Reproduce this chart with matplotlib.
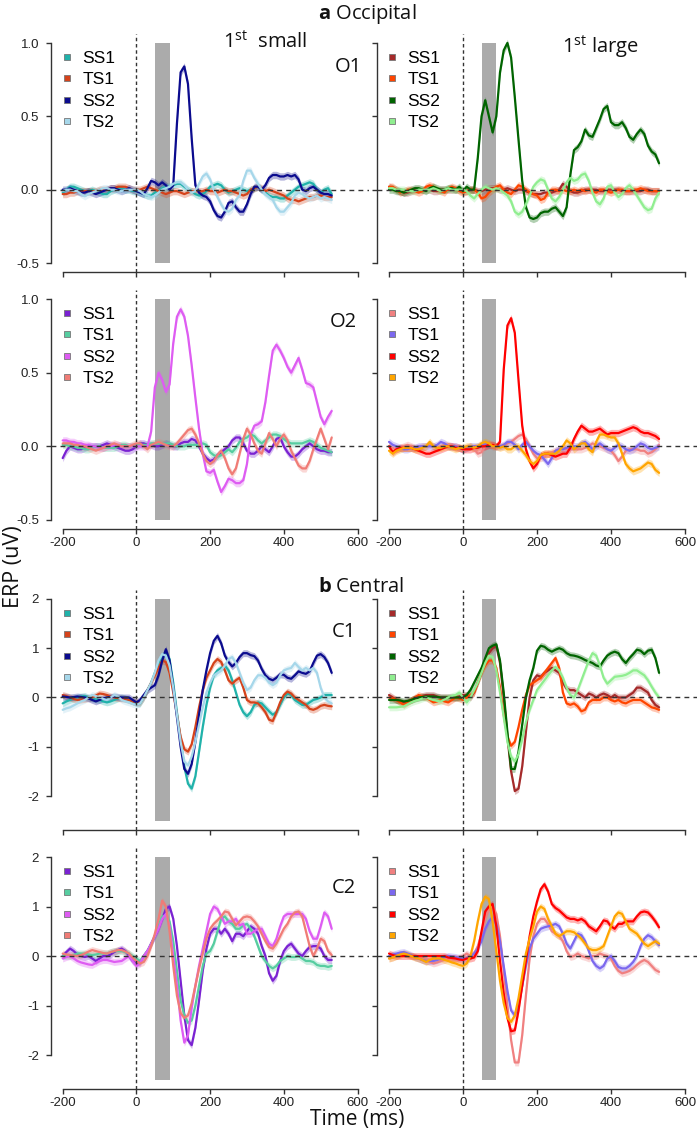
import matplotlib
matplotlib.use("Agg")
import matplotlib.pyplot as plt
from matplotlib.lines import Line2D
import numpy as np

plt.rcParams['font.family'] = ['Liberation Sans', 'DejaVu Sans']
plt.rcParams['axes.unicode_minus'] = False
plt.rcParams['mathtext.fontset'] = 'custom'
plt.rcParams['mathtext.rm'] = 'Open Sans'
plt.rcParams['mathtext.bf'] = 'Open Sans:bold'
plt.rcParams['mathtext.it'] = 'Open Sans:italic'

# ---------------- data ----------------
time_ms = list(range(-200, 531, 10))
conditions = ['SS1', 'TS1', 'SS2', 'TS2']
x_ticks = [-200, 0, 200, 400, 600]
o_ticks = [-0.5, 0.0, 0.5, 1.0]
c_ticks = [-2, -1, 0, 1, 2]
stim_window = (50, 90)

# O1, 1st small
o1s_ss1 = [-0.02, 0.00, 0.02, 0.02, 0.01, 0.00, -0.01, -0.01, 0.00, -0.01,
           -0.02, -0.03, -0.03, -0.01, 0.00, 0.01, 0.01, 0.00, 0.00, -0.01,
           -0.01, -0.02, -0.03, -0.04, -0.04, -0.02, -0.01, 0.01, 0.02, 0.02,
           0.03, 0.04, 0.04, 0.02, 0.00, -0.01, -0.03, -0.04, -0.03, -0.01,
           0.02, 0.03, 0.04, 0.03, 0.00, -0.02, -0.01, 0.00, 0.01, 0.00,
           -0.01, 0.00, 0.01, 0.02, 0.00, -0.02, -0.04, -0.05, -0.05, -0.06,
           -0.06, -0.04, -0.02, 0.00, 0.02, 0.03, 0.04, 0.05, 0.04, 0.00,
           -0.02, 0.00, 0.01, -0.03]
o1s_ts1 = [-0.03, -0.03, -0.02, -0.02, -0.01, -0.01, -0.01, -0.01, -0.01, -0.01,
           0.00, 0.00, 0.00, 0.01, 0.01, 0.02, 0.02, 0.02, 0.01, 0.00,
           0.00, 0.00, 0.01, 0.02, 0.01, 0.00, -0.01, -0.02, -0.03, -0.02,
           -0.01, -0.01, -0.02, -0.03, -0.02, -0.01, -0.01, -0.01, -0.01, 0.00,
           -0.01, -0.01, -0.02, -0.01, 0.00, -0.01, -0.01, -0.02, -0.03, -0.04,
           -0.03, 0.00, 0.01, 0.02, 0.01, -0.01, 0.00, -0.01, -0.02, -0.03,
           -0.04, -0.06, -0.07, -0.07, -0.08, -0.07, -0.06, -0.05, -0.05, -0.04,
           -0.04, -0.05, -0.05, -0.05]
o1s_ss2 = [0.00, 0.00, 0.01, 0.00, -0.01, -0.02, -0.02, -0.01, -0.02, -0.03,
           -0.02, -0.01, 0.00, 0.01, 0.01, 0.00, -0.01, 0.00, 0.01, 0.00,
           -0.01, -0.02, -0.03, 0.01, 0.06, 0.05, 0.03, 0.05, 0.03, 0.00,
           0.03, 0.45, 0.80, 0.84, 0.72, 0.35, 0.03, -0.02, -0.04, -0.05,
           -0.08, -0.14, -0.18, -0.19, -0.15, -0.09, -0.08, -0.12, -0.15, -0.15,
           -0.10, -0.03, 0.02, 0.02, 0.00, 0.03, 0.08, 0.10, 0.10, 0.09,
           0.09, 0.10, 0.09, 0.10, 0.07, 0.00, -0.01, 0.01, 0.02, 0.00,
           -0.02, -0.03, -0.03, -0.04]
o1s_ts2 = [-0.01, 0.00, 0.00, -0.01, -0.01, -0.03, -0.045, -0.03, -0.02, -0.01,
           0.00, 0.01, 0.01, 0.00, 0.00, -0.01, -0.01, 0.00, 0.00, 0.00,
           0.00, -0.01, -0.03, -0.04, -0.05, -0.04, -0.02, 0.00, 0.01, 0.02,
           0.04, 0.05, 0.05, 0.03, 0.00, -0.02, -0.01, 0.04, 0.09, 0.11,
           0.07, 0.00, -0.05, -0.10, -0.14, -0.15, -0.13, -0.07, -0.04, 0.06,
           0.13, 0.13, 0.08, 0.04, 0.00, -0.03, -0.05, -0.07, -0.12, -0.15,
           -0.15, -0.12, -0.09, -0.04, -0.02, -0.03, -0.05, -0.06, -0.05, -0.04,
           -0.06, -0.05, -0.06, -0.07]

# O1, 1st large
o1l_ss1 = [0.02, 0.01, 0.00, -0.01, -0.02, -0.02, -0.01, 0.00, 0.00, 0.00,
           0.00, 0.00, -0.01, -0.01, 0.00, 0.00, 0.00, 0.00, 0.00, 0.00,
           -0.01, -0.01, 0.00, 0.00, -0.01, -0.01, 0.00, 0.01, 0.01, 0.01,
           0.00, 0.00, 0.01, 0.00, -0.01, 0.00, 0.00, -0.01, -0.02, -0.03,
           -0.03, -0.03, -0.02, -0.02, -0.02, -0.01, 0.00, 0.04, 0.02, -0.01,
           -0.02, -0.02, -0.01, 0.00, 0.00, 0.00, 0.00, -0.01, -0.01, 0.00,
           0.00, 0.00, 0.00, -0.01, -0.01, -0.01, -0.01, -0.01, -0.01, 0.00,
           0.00, -0.01, -0.01, -0.01]
o1l_ts1 = [0.02, 0.02, 0.00, -0.02, -0.01, 0.00, 0.00, -0.01, -0.02, -0.01,
           0.02, 0.03, 0.02, 0.00, -0.01, -0.02, 0.01, 0.02, 0.01, -0.01,
           -0.02, -0.01, 0.00, 0.00, -0.02, -0.06, -0.05, -0.02, 0.00, 0.02,
           0.03, 0.00, -0.02, -0.03, 0.00, 0.03, 0.02, 0.00, -0.02, -0.03,
           -0.04, -0.07, -0.06, -0.02, 0.00, 0.00, -0.01, 0.00, -0.01, -0.01,
           0.00, -0.01, 0.00, -0.01, 0.00, -0.01, -0.02, 0.00, 0.00, -0.01,
           -0.02, -0.01, 0.00, 0.00, -0.01, -0.01, 0.00, 0.00, 0.01, 0.00,
           -0.01, -0.01, -0.01, -0.01]
o1l_ss2 = [0.00, 0.00, -0.01, -0.01, -0.02, -0.01, 0.00, 0.01, 0.01, 0.00,
           -0.01, 0.01, 0.02, 0.01, 0.00, 0.00, 0.01, 0.01, 0.00, 0.02,
           -0.01, 0.02, 0.00, 0.00, 0.22, 0.50, 0.61, 0.50, 0.39, 0.50,
           0.80, 0.95, 1.00, 0.90, 0.63, 0.34, 0.06, -0.12, -0.19, -0.20,
           -0.19, -0.16, -0.15, -0.15, -0.13, -0.12, -0.15, -0.18, -0.12, 0.10,
           0.27, 0.29, 0.33, 0.41, 0.37, 0.36, 0.42, 0.48, 0.55, 0.57,
           0.46, 0.44, 0.44, 0.46, 0.42, 0.36, 0.34, 0.38, 0.41, 0.38,
           0.30, 0.26, 0.24, 0.18]
o1l_ts2 = [0.01, 0.01, 0.00, 0.00, 0.00, -0.01, -0.01, -0.01, 0.00, 0.00,
           0.00, 0.00, 0.01, 0.00, -0.01, 0.00, 0.01, 0.00, 0.00, 0.00,
           0.00, -0.01, -0.04, -0.06, -0.03, 0.00, 0.02, 0.01, 0.00, 0.01,
           0.00, -0.02, -0.04, -0.08, -0.15, -0.17, -0.15, -0.10, -0.04, 0.02,
           0.05, 0.07, 0.06, 0.00, -0.06, -0.08, -0.05, 0.00, 0.05, 0.08,
           0.06, 0.07, 0.10, 0.11, 0.06, -0.02, -0.08, -0.10, -0.06, 0.02,
           0.03, -0.02, -0.05, -0.03, 0.01, 0.03, 0.00, -0.04, -0.08, -0.12,
           -0.14, -0.13, -0.06, -0.02]

# O2, 1st small
o2s_ss1 = [-0.08, -0.03, 0.00, -0.01, -0.02, -0.02, -0.01, 0.00, 0.00, 0.00,
           0.00, 0.01, 0.02, 0.01, 0.00, -0.01, -0.02, -0.03, -0.03, -0.02,
           0.00, 0.02, 0.02, 0.01, 0.01, 0.00, 0.00, 0.01, 0.02, 0.01,
           0.00, 0.00, 0.02, 0.03, 0.03, 0.05, 0.04, 0.00, -0.05, -0.08,
           -0.10, -0.09, -0.06, -0.04, -0.02, 0.00, 0.04, 0.06, 0.06, 0.02,
           -0.03, -0.05, -0.05, -0.03, 0.00, -0.02, -0.04, 0.00, 0.05, 0.06,
           0.00, -0.04, -0.07, -0.07, -0.05, -0.02, 0.00, 0.02, 0.00, -0.02,
           -0.03, -0.03, -0.04, -0.04]
o2s_ts1 = [0.01, 0.01, 0.00, 0.00, -0.01, -0.01, -0.02, -0.02, -0.01, 0.00,
           0.00, -0.01, -0.01, -0.01, -0.01, 0.00, 0.01, 0.01, 0.00, 0.00,
           0.01, 0.01, 0.01, 0.01, 0.02, 0.02, 0.02, 0.02, 0.02, 0.02,
           0.01, 0.00, 0.00, 0.00, 0.01, 0.01, 0.01, 0.01, 0.02, 0.01,
           -0.04, -0.06, -0.07, -0.06, -0.04, -0.02, -0.04, -0.01, 0.03, 0.05,
           0.06, 0.08, 0.07, 0.04, 0.02, 0.04, 0.06, 0.08, 0.08, 0.07,
           0.05, 0.03, 0.02, 0.02, 0.02, 0.02, 0.03, 0.04, 0.03, 0.01,
           -0.01, -0.02, -0.03, -0.04]
o2s_ss2 = [0.04, 0.04, 0.03, 0.03, 0.02, 0.02, 0.01, 0.01, 0.00, 0.00,
           -0.01, -0.01, 0.00, 0.00, 0.01, 0.01, 0.00, 0.00, 0.00, 0.00,
           0.00, 0.00, 0.00, 0.00, 0.10, 0.40, 0.50, 0.45, 0.37, 0.42,
           0.70, 0.88, 0.93, 0.88, 0.75, 0.55, 0.33, 0.12, -0.05, -0.17,
           -0.18, -0.16, -0.24, -0.31, -0.27, -0.22, -0.23, -0.25, -0.25, -0.23,
           -0.12, 0.08, 0.14, 0.15, 0.17, 0.30, 0.48, 0.65, 0.69, 0.65,
           0.60, 0.54, 0.50, 0.55, 0.60, 0.52, 0.43, 0.42, 0.40, 0.30,
           0.20, 0.15, 0.20, 0.24]
o2s_ts2 = [0.02, 0.02, 0.02, 0.01, 0.01, 0.00, 0.00, -0.01, -0.02, -0.03,
           -0.02, -0.01, 0.00, 0.01, 0.02, 0.01, 0.00, 0.00, 0.00, 0.01,
           0.02, 0.02, 0.00, -0.02, 0.01, 0.02, 0.03, 0.02, 0.01, 0.00,
           0.00, 0.02, 0.05, 0.08, 0.11, 0.12, 0.08, 0.02, -0.05, -0.10,
           -0.12, -0.10, -0.06, -0.03, -0.08, -0.15, -0.19, -0.15, -0.05, 0.05,
           0.12, 0.08, 0.02, -0.03, -0.05, 0.02, 0.09, 0.05, 0.00, 0.05,
           0.08, 0.04, -0.03, -0.08, -0.13, -0.15, -0.15, -0.10, -0.02, 0.05,
           0.12, 0.05, -0.02, 0.06]

# O2, 1st large
o2l_ss1 = [0.00, -0.01, -0.02, -0.01, 0.00, 0.01, 0.00, -0.01, -0.01, 0.00,
           0.00, 0.01, 0.00, -0.01, 0.00, 0.01, 0.01, 0.00, 0.00, -0.01,
           -0.02, -0.01, 0.00, -0.02, -0.05, -0.04, 0.00, 0.02, 0.01, 0.00,
           0.00, 0.00, 0.02, 0.03, 0.05, 0.07, 0.08, 0.05, 0.00, -0.05,
           -0.08, -0.08, -0.07, -0.05, -0.04, -0.03, -0.02, -0.01, -0.02, -0.02,
           -0.02, -0.02, -0.02, -0.01, 0.00, 0.02, 0.01, 0.00, -0.01, -0.02,
           -0.03, -0.06, -0.10, -0.07, -0.03, -0.02, -0.02, -0.02, -0.03, -0.03,
           -0.05, -0.04, -0.02, 0.01]
o2l_ts1 = [0.03, 0.01, 0.00, -0.01, -0.02, -0.02, -0.01, -0.01, 0.00, 0.00,
           0.00, 0.00, 0.00, 0.01, 0.03, 0.02, 0.00, 0.00, 0.00, -0.01,
           -0.02, -0.01, 0.00, 0.00, 0.00, 0.01, 0.02, 0.01, 0.00, 0.00,
           0.00, 0.01, 0.03, 0.03, 0.01, -0.02, 0.01, 0.03, 0.00, -0.03,
           -0.05, -0.06, -0.09, -0.12, -0.08, -0.03, -0.02, -0.02, -0.01, 0.00,
           0.00, 0.00, 0.02, 0.03, 0.01, -0.02, 0.00, 0.02, 0.00, -0.02,
           -0.03, -0.01, 0.01, 0.00, -0.02, -0.03, -0.02, 0.00, 0.02, 0.01,
           -0.01, -0.02, -0.01, 0.00]
o2l_ss2 = [0.00, -0.04, -0.02, -0.01, -0.01, -0.01, -0.01, -0.02, -0.03, -0.04,
           -0.05, -0.05, -0.04, -0.03, -0.02, -0.01, 0.00, 0.00, -0.01, -0.01,
           -0.02, -0.02, -0.02, -0.01, -0.01, 0.00, 0.00, 0.01, 0.01, 0.00,
           0.03, 0.52, 0.82, 0.87, 0.77, 0.45, 0.14, -0.02, -0.10, -0.15,
           -0.12, -0.06, -0.05, -0.05, -0.06, -0.07, -0.06, -0.05, -0.05, -0.01,
           0.05, 0.10, 0.14, 0.12, 0.10, 0.10, 0.11, 0.12, 0.10, 0.08,
           0.09, 0.09, 0.09, 0.10, 0.11, 0.12, 0.13, 0.12, 0.10, 0.09,
           0.09, 0.08, 0.07, 0.05]
o2l_ts2 = [-0.03, -0.05, -0.03, -0.02, -0.01, -0.01, -0.01, -0.02, -0.02, -0.01,
           0.00, 0.03, 0.00, -0.01, -0.01, 0.00, 0.00, -0.01, -0.02, -0.01,
           -0.01, 0.00, 0.00, -0.01, 0.00, 0.02, 0.03, 0.02, 0.00, 0.00,
           -0.01, 0.00, -0.02, -0.02, 0.00, 0.00, -0.03, -0.06, -0.10, -0.12,
           -0.10, -0.06, -0.05, -0.05, -0.05, -0.05, -0.03, 0.00, 0.04, 0.02,
           -0.02, 0.00, 0.02, 0.02, -0.02, -0.04, 0.03, 0.08, 0.08, 0.07,
           0.06, 0.06, 0.02, -0.05, -0.12, -0.15, -0.17, -0.16, -0.15, -0.13,
           -0.11, -0.12, -0.16, -0.18]

# C1, 1st small
c1s_ss1 = [-0.12, -0.08, -0.05, -0.02, 0.00, 0.02, 0.03, 0.00, -0.02, -0.04,
           -0.05, -0.08, -0.10, -0.08, -0.05, -0.02, 0.00, -0.02, -0.05, -0.08,
           -0.12, -0.12, 0.00, 0.15, 0.30, 0.50, 0.70, 0.85, 0.90, 0.78,
           0.30, -0.30, -0.85, -1.40, -1.75, -1.85, -1.60, -1.10, -0.60, -0.15,
           0.20, 0.45, 0.55, 0.60, 0.65, 0.55, 0.35, 0.10, -0.15, -0.30,
           -0.38, -0.30, -0.15, -0.10, -0.12, -0.20, -0.28, -0.35, -0.30, -0.15,
           0.00, 0.08, 0.05, -0.05, -0.10, -0.15, -0.15, -0.10, -0.05, -0.03,
           0.00, 0.05, 0.05, 0.05]
c1s_ts1 = [0.05, 0.03, 0.00, -0.03, -0.05, -0.04, -0.03, -0.01, 0.00, 0.04,
           0.08, 0.07, 0.05, 0.02, 0.00, -0.01, -0.02, -0.03, -0.05, -0.08,
           -0.10, -0.10, 0.00, 0.15, 0.30, 0.45, 0.60, 0.75, 0.72, 0.50,
           0.10, -0.35, -0.80, -1.05, -1.10, -0.95, -0.60, -0.20, 0.15, 0.40,
           0.55, 0.70, 0.78, 0.72, 0.55, 0.35, 0.28, 0.35, 0.40, 0.20,
           -0.05, -0.10, -0.10, -0.12, -0.20, -0.30, -0.45, -0.48, -0.30, -0.10,
           0.05, 0.12, 0.08, 0.00, -0.05, -0.10, -0.15, -0.23, -0.25, -0.22,
           -0.17, -0.15, -0.17, -0.18]
c1s_ss2 = [0.02, 0.01, 0.00, 0.01, 0.02, 0.01, 0.00, -0.02, -0.05, -0.08,
           -0.05, -0.02, 0.00, 0.01, 0.02, 0.01, 0.00, 0.00, 0.00, -0.05,
           -0.10, -0.05, 0.05, 0.15, 0.20, 0.25, 0.45, 0.75, 0.98, 0.75,
           0.20, -0.40, -1.00, -1.45, -1.55, -1.35, -0.90, -0.35, 0.15, 0.55,
           0.90, 1.15, 1.25, 1.10, 0.85, 0.72, 0.63, 0.70, 0.82, 0.90,
           0.90, 0.86, 0.84, 0.75, 0.58, 0.45, 0.38, 0.35, 0.40, 0.47,
           0.46, 0.40, 0.38, 0.45, 0.53, 0.50, 0.48, 0.53, 0.70, 0.85,
           0.88, 0.82, 0.70, 0.50]
c1s_ts2 = [-0.25, -0.22, -0.20, -0.16, -0.12, -0.08, -0.05, 0.00, 0.05, 0.03,
           0.00, -0.03, -0.05, 0.00, 0.05, 0.02, -0.05, -0.08, -0.10, -0.13,
           -0.15, -0.12, 0.00, 0.15, 0.30, 0.50, 0.75, 0.88, 0.85, 0.65,
           0.20, -0.35, -0.90, -1.30, -1.38, -1.20, -0.90, -0.55, -0.20, 0.10,
           0.30, 0.45, 0.50, 0.55, 0.65, 0.78, 0.82, 0.70, 0.50, 0.30,
           0.15, 0.20, 0.35, 0.45, 0.45, 0.40, 0.30, 0.25, 0.30, 0.45,
           0.55, 0.58, 0.60, 0.70, 0.62, 0.55, 0.60, 0.55, 0.60, 0.50,
           0.20, 0.00, -0.08, -0.12]

# C1, 1st large
c1l_ss1 = [0.05, 0.00, -0.05, -0.08, -0.10, -0.08, -0.05, -0.02, 0.00, 0.03,
           0.05, 0.05, 0.05, 0.02, 0.00, 0.00, 0.00, 0.00, 0.00, 0.02,
           0.05, 0.05, 0.00, 0.10, 0.30, 0.50, 0.75, 0.90, 1.00, 1.05,
           0.70, 0.00, -0.80, -1.50, -1.90, -1.85, -1.40, -0.70, 0.00, 0.35,
           0.45, 0.42, 0.50, 0.55, 0.60, 0.55, 0.50, 0.30, 0.18, 0.15,
           0.15, 0.10, 0.05, 0.00, 0.08, 0.05, 0.00, 0.05, 0.08, 0.05,
           0.00, 0.05, 0.00, 0.00, 0.00, 0.05, 0.10, 0.20, 0.20, 0.15,
           0.10, -0.05, -0.15, -0.20]
c1l_ts1 = [0.00, -0.02, -0.05, -0.10, -0.15, -0.10, -0.05, 0.00, 0.05, 0.02,
           0.00, -0.05, -0.10, -0.08, -0.05, -0.08, -0.10, -0.05, 0.00, -0.02,
           -0.05, 0.00, 0.05, 0.10, 0.30, 0.50, 0.65, 0.75, 0.75, 0.60,
           0.20, -0.35, -0.80, -0.98, -0.90, -0.60, -0.25, 0.05, 0.25, 0.30,
           0.35, 0.40, 0.50, 0.60, 0.70, 0.80, 0.60, 0.10, -0.12, -0.15,
           -0.12, -0.18, -0.28, -0.25, -0.10, -0.05, -0.05, -0.05, 0.00, 0.00,
           -0.05, -0.08, -0.05, -0.10, -0.12, -0.08, -0.05, -0.05, -0.05, -0.10,
           -0.15, -0.20, -0.22, -0.25]
c1l_ss2 = [-0.05, -0.05, -0.05, -0.06, -0.08, -0.07, -0.05, -0.02, 0.00, 0.01,
           0.02, 0.02, 0.02, 0.01, 0.00, 0.00, 0.00, 0.00, 0.00, 0.00,
           0.00, 0.05, 0.15, 0.30, 0.45, 0.60, 0.80, 1.00, 1.05, 1.08,
           0.75, 0.10, -0.70, -1.45, -1.45, -1.10, -0.55, 0.00, 0.35, 0.60,
           0.95, 1.05, 1.03, 0.97, 0.93, 0.97, 1.00, 0.97, 0.90, 0.86,
           0.85, 0.83, 0.80, 0.76, 0.73, 0.70, 0.65, 0.63, 0.75, 0.85,
           0.90, 0.93, 0.90, 0.78, 0.70, 0.80, 0.88, 0.97, 0.95, 0.88,
           0.95, 0.97, 0.80, 0.50]
c1l_ts2 = [-0.20, -0.20, -0.20, -0.19, -0.18, -0.14, -0.10, -0.07, -0.05, -0.02,
           0.00, -0.03, -0.05, -0.07, -0.08, -0.04, 0.00, 0.03, 0.05, 0.10,
           0.00, -0.10, 0.00, 0.15, 0.30, 0.50, 0.70, 0.85, 0.82, 0.55,
           0.10, -0.40, -0.90, -1.20, -1.30, -1.15, -0.85, -0.50, -0.25, -0.05,
           0.15, 0.25, 0.35, 0.45, 0.55, 0.62, 0.55, 0.40, 0.20, 0.05,
           0.00, 0.15, 0.35, 0.55, 0.75, 0.90, 0.85, 0.65, 0.40, 0.28,
           0.35, 0.42, 0.43, 0.44, 0.46, 0.50, 0.55, 0.55, 0.50, 0.45,
           0.35, 0.22, 0.10, 0.00]

# C2, 1st small
c2s_ss1 = [0.00, 0.08, 0.15, 0.10, 0.03, 0.00, -0.02, 0.00, -0.05, -0.10,
           -0.05, 0.00, 0.00, 0.03, 0.08, 0.12, 0.15, 0.10, 0.00, -0.10,
           -0.15, -0.12, 0.00, 0.10, 0.25, 0.40, 0.55, 0.75, 0.95, 1.00,
           0.75, 0.20, -0.50, -1.20, -1.70, -1.80, -1.45, -0.90, -0.30, 0.15,
           0.45, 0.55, 0.55, 0.45, 0.55, 0.45, 0.30, 0.45, 0.45, 0.40,
           0.50, 0.60, 0.55, 0.45, 0.20, 0.00, -0.35, -0.50, -0.40, -0.10,
           0.10, 0.20, 0.25, 0.15, 0.05, 0.00, 0.10, 0.18, 0.20, 0.20,
           0.15, 0.00, -0.08, -0.08]
c2s_ts1 = [0.00, 0.00, 0.00, 0.02, 0.05, 0.05, 0.05, 0.03, 0.02, 0.03,
           0.05, 0.05, 0.05, 0.08, 0.10, 0.10, 0.10, 0.08, 0.05, 0.00,
           -0.05, -0.10, 0.00, 0.10, 0.25, 0.40, 0.60, 0.80, 0.82, 0.70,
           0.30, -0.30, -0.90, -1.20, -1.35, -1.30, -1.00, -0.60, -0.20, 0.05,
           0.10, 0.25, 0.50, 0.75, 0.80, 0.70, 0.65, 0.55, 0.55, 0.62,
           0.65, 0.55, 0.40, 0.20, 0.00, -0.10, -0.20, -0.25, -0.20, -0.10,
           -0.05, 0.00, -0.02, -0.02, 0.00, -0.05, -0.10, -0.10, -0.12, -0.18,
           -0.20, -0.20, -0.22, -0.20]
c2s_ss2 = [-0.05, -0.02, 0.00, -0.05, -0.10, -0.13, -0.15, -0.17, -0.18, -0.14,
           -0.10, -0.08, -0.08, -0.10, -0.12, -0.11, -0.10, -0.05, 0.00, -0.10,
           -0.20, -0.15, 0.00, 0.10, 0.25, 0.40, 0.55, 0.75, 0.85, 0.60,
           0.00, -0.60, -1.30, -1.75, -1.60, -1.05, -0.60, -0.20, 0.15, 0.50,
           0.85, 1.00, 0.95, 0.80, 0.65, 0.70, 0.70, 0.75, 0.62, 0.65,
           0.45, 0.45, 0.50, 0.55, 0.55, 0.40, 0.25, 0.20, 0.35, 0.60,
           0.80, 0.85, 0.85, 0.85, 0.85, 0.85, 0.75, 0.50, 0.35, 0.35,
           0.60, 0.88, 0.80, 0.55]
c2s_ts2 = [0.05, 0.03, 0.02, 0.01, 0.00, 0.02, 0.05, 0.09, 0.12, 0.10,
           0.08, 0.06, 0.05, 0.08, 0.10, 0.12, 0.12, 0.09, 0.05, -0.03,
           -0.10, -0.15, -0.12, 0.00, 0.20, 0.45, 0.75, 1.12, 1.00, 0.50,
           -0.20, -0.80, -1.15, -1.25, -1.20, -0.95, -0.60, -0.25, 0.05, 0.35,
           0.55, 0.65, 0.72, 0.80, 0.90, 0.88, 0.75, 0.62, 0.70, 0.78,
           0.80, 0.78, 0.70, 0.60, 0.45, 0.30, 0.18, 0.15, 0.25, 0.40,
           0.55, 0.65, 0.80, 0.88, 0.90, 0.80, 0.50, 0.20, 0.00, 0.15,
           0.35, 0.30, 0.10, 0.02]

# C2, 1st large
c2l_ss1 = [-0.05, -0.03, 0.00, 0.03, 0.05, 0.03, 0.00, -0.03, -0.05, -0.08,
           -0.10, -0.12, -0.15, -0.13, -0.10, -0.08, -0.05, -0.05, -0.05, -0.03,
           0.00, 0.05, 0.00, 0.05, 0.20, 0.45, 0.75, 0.95, 1.00, 0.85,
           0.40, -0.30, -1.00, -1.70, -2.15, -2.15, -1.60, -0.80, -0.05, 0.40,
           0.65, 0.75, 0.75, 0.65, 0.50, 0.45, 0.40, 0.30, 0.10, -0.02,
           0.00, 0.05, 0.00, -0.02, -0.05, 0.00, 0.00, 0.05, 0.02, 0.00,
           -0.05, -0.20, -0.30, -0.35, -0.33, -0.30, -0.25, -0.18, -0.12, -0.08,
           -0.12, -0.20, -0.28, -0.32]
c2l_ts1 = [0.00, 0.03, 0.05, 0.07, 0.08, 0.05, 0.02, -0.02, -0.05, -0.08,
           -0.10, -0.10, -0.10, -0.08, -0.05, -0.02, 0.00, -0.01, -0.02, -0.04,
           -0.05, -0.05, 0.00, 0.05, 0.15, 0.30, 0.55, 0.70, 0.78, 0.65,
           0.30, -0.20, -0.70, -1.10, -1.20, -1.00, -0.60, -0.20, 0.15, 0.35,
           0.45, 0.55, 0.58, 0.60, 0.62, 0.65, 0.60, 0.45, 0.25, 0.15,
           0.30, 0.45, 0.42, 0.30, 0.10, -0.10, -0.20, -0.25, -0.20, -0.05,
           0.00, -0.10, -0.22, -0.25, -0.25, -0.20, -0.12, 0.00, 0.20, 0.35,
           0.42, 0.38, 0.30, 0.22]
c2l_ss2 = [0.05, 0.02, 0.00, 0.00, 0.00, 0.00, 0.00, 0.00, 0.00, 0.00,
           0.00, 0.00, 0.00, 0.00, 0.00, 0.00, -0.03, -0.04, -0.05, -0.07,
           -0.08, -0.05, -0.05, -0.03, 0.10, 0.50, 0.90, 1.00, 1.05, 0.60,
           -0.10, -0.75, -1.25, -1.52, -1.50, -1.10, -0.60, -0.10, 0.40, 0.80,
           1.10, 1.35, 1.45, 1.30, 1.05, 0.97, 0.92, 0.85, 0.78, 0.75,
           0.75, 0.72, 0.75, 0.70, 0.60, 0.55, 0.50, 0.60, 0.72, 0.70,
           0.60, 0.55, 0.65, 0.65, 0.70, 0.70, 0.70, 0.80, 0.88, 0.90,
           0.88, 0.80, 0.70, 0.58]
c2l_ts2 = [-0.05, -0.03, 0.00, 0.03, 0.05, 0.03, 0.00, -0.03, -0.05, -0.08,
           -0.12, -0.08, -0.05, -0.05, -0.05, -0.08, -0.10, -0.13, -0.15, -0.18,
           -0.20, -0.15, 0.00, 0.30, 0.70, 1.05, 1.20, 1.15, 0.70, 0.10,
           -0.50, -0.95, -1.25, -1.33, -1.20, -0.85, -0.40, 0.05, 0.35, 0.60,
           0.90, 1.00, 0.95, 0.75, 0.60, 0.45, 0.40, 0.45, 0.50, 0.50,
           0.48, 0.42, 0.35, 0.25, 0.15, 0.12, 0.12, 0.15, 0.20, 0.40,
           0.60, 0.80, 0.88, 0.85, 0.70, 0.55, 0.50, 0.45, 0.35, 0.25,
           0.20, 0.25, 0.30, 0.25]

colors_small_1 = ['#20B2AA', '#D5431B', '#0B0B8E', '#A6D7EA']
colors_large_1 = ['#A52A2A', '#FF4500', '#006400', '#90EE90']
colors_small_2 = ['#7A22D2', '#56CDA0', '#DE5CF2', '#F07C76']
colors_large_2 = ['#F08080', '#7B68EE', '#FF0000', '#FFA500']

# ---------------- layout ----------------
W, H = 700, 1131
fig = plt.figure(figsize=(W / 100, H / 100), dpi=100)

col_x = {'L': (50.9, 318.4), 'R': (377.2, 319.6)}
row_y = {'O1': (34.2, 271.8), 'O2': (290.2, 528.8),
         'C1': (590.1, 829.5), 'C2': (848.1, 1088.7)}

panels = [
    ('O1', 'L', [o1s_ss1, o1s_ts1, o1s_ss2, o1s_ts2], colors_small_1),
    ('O1', 'R', [o1l_ss1, o1l_ts1, o1l_ss2, o1l_ts2], colors_large_1),
    ('O2', 'L', [o2s_ss1, o2s_ts1, o2s_ss2, o2s_ts2], colors_small_2),
    ('O2', 'R', [o2l_ss1, o2l_ts1, o2l_ss2, o2l_ts2], colors_large_2),
    ('C1', 'L', [c1s_ss1, c1s_ts1, c1s_ss2, c1s_ts2], colors_small_1),
    ('C1', 'R', [c1l_ss1, c1l_ts1, c1l_ss2, c1l_ts2], colors_large_1),
    ('C2', 'L', [c2s_ss1, c2s_ts1, c2s_ss2, c2s_ts2], colors_small_2),
    ('C2', 'R', [c2l_ss1, c2l_ts1, c2l_ss2, c2l_ts2], colors_large_2),
]

t = np.array(time_ms)
axis_col = '#333333'
for row, col, series, cols in panels:
    x0, w = col_x[col]
    top, bot = row_y[row]
    ax = fig.add_axes([x0 / W, 1 - bot / H, w / W, (bot - top) / H])
    occ = row.startswith('O')
    yt = o_ticks if occ else c_ticks
    ymin, ymax = (yt[0], yt[-1]) if occ else (-2.5, 2.0)
    pad = 0.04 * (ymax - ymin)
    ax.set_ylim(ymin - pad, ymax + pad)
    ax.set_xlim(-232, 632)
    se = 0.025 if occ else 0.07

    ax.bar((stim_window[0] + stim_window[1]) / 2, ymax - ymin, bottom=ymin,
           width=stim_window[1] - stim_window[0], color='#ABABAB', zorder=1)
    for vals, c in zip(series, cols):
        v = np.array(vals)
        ax.fill_between(t, v - se, v + se, color=c, alpha=0.3, lw=0, zorder=2)
        ax.plot(t, v, color=c, lw=1.6, zorder=3, solid_capstyle='round',
                solid_joinstyle='round')
    ax.axhline(0, color=axis_col, lw=1.0, ls=(0, (3.5, 3)), zorder=6)
    ax.axvline(0, color=axis_col, lw=1.0, ls=(0, (2.5, 2)), zorder=6)

    for s in ['top', 'right']:
        ax.spines[s].set_visible(False)
    for s in ['left', 'bottom']:
        ax.spines[s].set_color(axis_col)
        ax.spines[s].set_linewidth(1.0)
    ax.spines['left'].set_bounds(yt[0], yt[-1])
    ax.spines['bottom'].set_bounds(x_ticks[0], x_ticks[-1])
    ax.set_xticks(x_ticks)
    ax.set_yticks(yt)
    if occ:
        ax.set_yticklabels(['%.1f' % v for v in yt])
    else:
        ax.set_yticklabels(['%d' % v for v in yt])
    ax.set_xticklabels(['%d' % v for v in x_ticks])
    ax.tick_params(direction='out', length=3.6, width=1.0, color=axis_col,
                   labelsize=9.5, labelcolor='#222222')
    ax.tick_params(axis='y', pad=5)
    ax.tick_params(axis='x', pad=2.5)
    if col == 'R':
        ax.tick_params(labelleft=False)
    if row in ('O1', 'C1'):
        ax.tick_params(labelbottom=False)

    handles = [Line2D([0], [0], marker='s', ls='none', markerfacecolor=c,
                      markeredgecolor='#777777', markeredgewidth=0.6,
                      markersize=4.8) for c in cols]
    lx = 0.0286 if col == 'L' else 0.0235
    ax.legend(handles, conditions, loc='upper left', bbox_to_anchor=(lx, 0.93),
              frameon=False, prop={'family': 'Liberation Sans', 'size': 12.5},
              handlelength=0.8, handletextpad=0.5, labelspacing=0.36,
              borderpad=0, borderaxespad=0)


def ftext(x, y, s, **kw):
    fig.text(x / W, 1 - y / H, s, **kw)


tfont = dict(family='Open Sans', color='#111111')
ftext(318, 19.3, r'$\mathbf{a}$ Occipital', fontsize=14.5, va='baseline', **tfont)
ftext(318, 591.7, r'$\mathbf{b}$ Central', fontsize=14.5, va='baseline', **tfont)
ftext(223, 48.3, r'1$^{\mathrm{st}}$  small', fontsize=14.5, va='baseline', **tfont)
ftext(562, 53.3, r'1$^{\mathrm{st}}$ large', fontsize=14.5, va='baseline', **tfont)
ftext(335, 71.7, 'O1', fontsize=14.5, va='baseline', **tfont)
ftext(330, 326.7, 'O2', fontsize=14.5, va='baseline', **tfont)
ftext(331.7, 636.7, 'C1', fontsize=14.5, va='baseline', **tfont)
ftext(331.7, 893.3, 'C2', fontsize=14.5, va='baseline', **tfont)
ftext(310, 1125, 'Time (ms)', fontsize=15, va='baseline', **tfont)
ftext(14, 567, 'ERP (uV)', fontsize=15.5, va='center', ha='center',
      rotation=90, **tfont)

fig.savefig('out.png', dpi=100)
